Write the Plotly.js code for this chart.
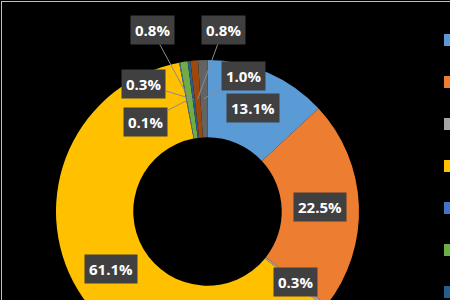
<!DOCTYPE html>
<html>
<head>
<meta charset="utf-8">
<script src="https://cdn.plot.ly/plotly-3.0.1.min.js"></script>
<style>
html, body { margin: 0; padding: 0; background: #000; overflow: hidden; }
#chart { width: 450px; height: 450px; }
</style>
</head>
<body>
<div id="chart"></div>
<script>
// ---- data ----
const categories = ['Series A', 'Series B', 'Series C', 'Series D', 'Series E',
                    'Series F', 'Series G', 'Series H', 'Series I'];
const shares = [13.1, 22.5, 0.3, 61.1, 0.1, 0.8, 0.3, 0.8, 1.0];
const colors = ['#5B9BD5', '#ED7D31', '#A5A5A5', '#FFC000', '#4472C4',
                '#70AD47', '#255E91', '#9E480E', '#636363'];

// ---- layout geometry (pixels) ----
const W = 450, H = 450;
const cx = 207.5, cy = 211.5, R = 151.5, HOLE = 0.49;
const rMid = R * (1 + HOLE) / 2;
// manual label placements (pixel centres) for the small slices moved out with leader lines
const outsideLabels = { 4: [145, 122], 5: [152, 30], 6: [143, 84], 7: [223, 30], 8: [243, 76] };

const total = shares.reduce((a, b) => a + b, 0);
const annotations = [];
let cum = 0;
shares.forEach((v, i) => {
  const midFrac = (cum + v / 2) / total;
  cum += v;
  const ang = midFrac * 2 * Math.PI; // clockwise from 12 o'clock
  const px = cx + rMid * Math.sin(ang);
  const py = cy - rMid * Math.cos(ang);
  const base = {
    xref: 'paper', yref: 'paper',
    x: px / W, y: 1 - py / H,
    text: v.toFixed(1) + '%',
    font: { family: 'Open Sans, sans-serif', size: 15, color: '#ffffff', weight: 'bold' },
    bgcolor: '#404040',
    borderpad: 4,
    xanchor: 'center', yanchor: 'middle'
  };
  if (outsideLabels[i]) {
    const [tx, ty] = outsideLabels[i];
    Object.assign(base, {
      showarrow: true, arrowhead: 0, arrowwidth: 1, arrowcolor: '#8c8c8c',
      ax: tx - px, ay: ty - py, standoff: 0
    });
  } else {
    base.showarrow = false;
  }
  annotations.push(base);
});

const trace = {
  type: 'pie',
  labels: categories,
  values: shares,
  marker: { colors: colors, line: { width: 0 } },
  hole: HOLE,
  sort: false,
  direction: 'clockwise',
  rotation: 0,
  textinfo: 'none',
  textposition: 'none',
  hoverinfo: 'skip',
  domain: { x: [(cx - R) / W, (cx + R) / W], y: [1 - (cy + R) / H, 1 - (cy - R) / H] }
};

const layout = {
  width: W, height: H,
  paper_bgcolor: '#000000',
  plot_bgcolor: '#000000',
  margin: { l: 0, r: 0, t: 0, b: 0, autoexpand: false },
  showlegend: true,
  legend: {
    x: 430 / W, xanchor: 'left',
    y: 1 - 14 / H, yanchor: 'top',
    font: { size: 30, color: '#000000' },
    bgcolor: 'rgba(0,0,0,0)',
    borderwidth: 0
  },
  annotations: annotations,
  shapes: [
    { type: 'line', xref: 'paper', yref: 'paper', x0: 1 / W, x1: 1, y0: 1 - 1.5 / H, y1: 1 - 1.5 / H,
      line: { color: '#bfbfbf', width: 1 } },
    { type: 'line', xref: 'paper', yref: 'paper', x0: 1.5 / W, x1: 1.5 / W, y0: 0, y1: 1 - 1 / H,
      line: { color: '#bfbfbf', width: 1 } }
  ]
};

Plotly.newPlot('chart', [trace], layout, { displayModeBar: false, staticPlot: true });
</script>
</body>
</html>
